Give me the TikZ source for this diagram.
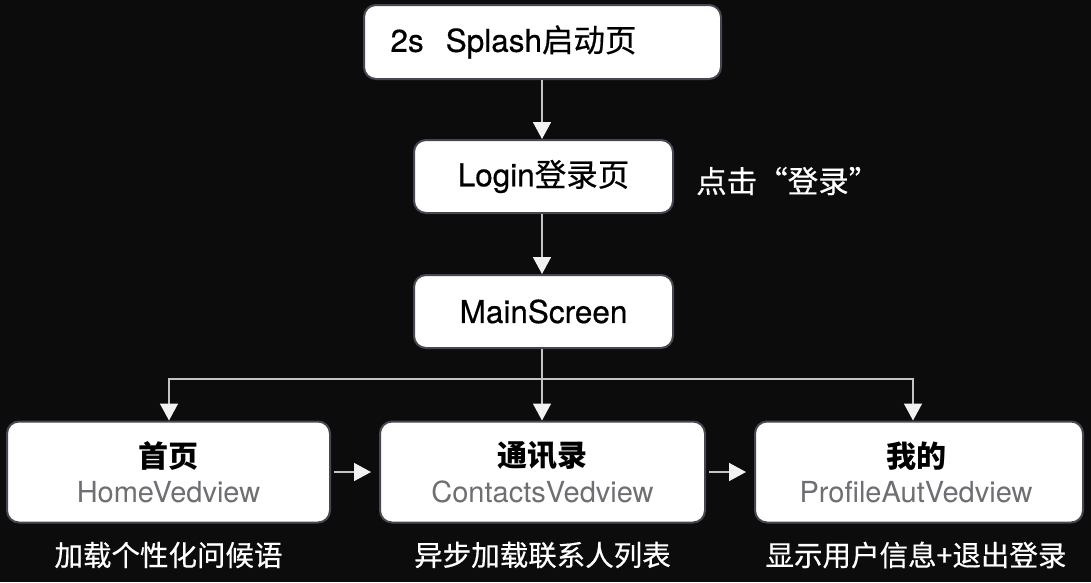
\documentclass[tikz,border=0pt]{standalone}
\usepackage{fontspec}
\setmainfont{TeX Gyre Heros}
\newfontfamily\cjk{Noto Sans CJK SC}
\newfontfamily\cjkmed[FakeBold=0.5]{Noto Sans CJK SC}
\newfontfamily\latmed[FakeBold=0.5]{TeX Gyre Heros}
\usetikzlibrary{arrows.meta}
\definecolor{bgc}{HTML}{0C0C0C}
\definecolor{edgec}{HTML}{454850}
\definecolor{linec}{HTML}{C4C4C4}
\definecolor{tipc}{HTML}{F2F2F2}
\definecolor{subc}{HTML}{6E6E73}
\tikzset{
  box/.style={draw=edgec, line width=2pt, fill=white, rounded corners=12pt, inner sep=0pt, align=center},
  conn/.style={draw=linec, line width=1.6pt, -{Triangle[width=18pt,length=17pt,color=tipc]}},
  plain/.style={draw=linec, line width=1.6pt},
  captext/.style={text=white, inner sep=0pt, font=\cjkmed\fontsize{28.5}{33}\selectfont},
  toptext/.style={font=\latmed\fontsize{31.5}{36}\selectfont},
  titletext/.style={inner sep=0pt, font=\cjk\bfseries\fontsize{30}{34}\selectfont},
  subtext/.style={inner sep=0pt, text=subc, font=\fontsize{29}{33}\selectfont},
}
\begin{document}
\begin{tikzpicture}[x=1pt,y=-1pt]
\fill[bgc] (0,0) rectangle (1091,582);
\useasboundingbox (0,0) rectangle (1091,582);
% top chain
\node[box, toptext, minimum width=357pt, minimum height=74pt] (splash) at (542.5,42)
  {2s\hspace{22pt}Splash{\cjkmed 启动页}\hspace{58pt}};
\node[box, toptext, minimum width=259pt, minimum height=73pt] (login) at (543.5,176.5)
  {Login{\cjkmed 登录页}};
\node[captext, anchor=west, font=\cjkmed\fontsize{30.5}{34}\selectfont] (clicklbl) at (696,181) {点击“登录”};
\node[box, toptext, minimum width=259pt, minimum height=73pt] (main) at (543.5,311.5)
  {MainScreen};
% bottom boxes
\node[box, minimum width=323pt, minimum height=101pt] (home) at (168.5,472) {};
\node[box, minimum width=325pt, minimum height=101pt] (contacts) at (542.5,472) {};
\node[box, minimum width=328pt, minimum height=101pt] (profile) at (919,472) {};
\node[titletext] (homet) at (168.5,456) {首页};
\node[subtext] (homes) at (168.5,492) {HomeVedview};
\node[titletext] (contt) at (542.5,456) {通讯录};
\node[subtext] (conts) at (542.5,492) {ContactsVedview};
\node[titletext] (proft) at (916,456) {我的};
\node[subtext] (profs) at (916,492) {ProfileAutVedview};
% captions
\node[captext] (homec) at (168.5,555) {加载个性化问候语};
\node[captext] (contc) at (542.5,555) {异步加载联系人列表};
\node[captext] (profc) at (916,555) {显示用户信息+退出登录};
% connectors
\coordinate (split) at (542,379);
\coordinate (lcorner) at (169,379);
\coordinate (rcorner) at (913,379);
\draw[conn] (splash.south -| split) -- (login.north -| split);
\draw[conn] (login.south -| split) -- (main.north -| split);
\draw[plain] (main.south -| split) -- (split);
\draw[conn] (split) -- (contacts.north -| split);
\draw[conn] (split) -- (lcorner) -- (home.north -| lcorner);
\draw[conn] (split) -- (rcorner) -- (profile.north -| rcorner);
\draw[conn] ([xshift=3pt]home.east) -- ([xshift=-8pt]contacts.west);
\draw[conn] ([xshift=3pt]contacts.east) -- ([xshift=-8pt]profile.west);
\end{tikzpicture}
\end{document}
